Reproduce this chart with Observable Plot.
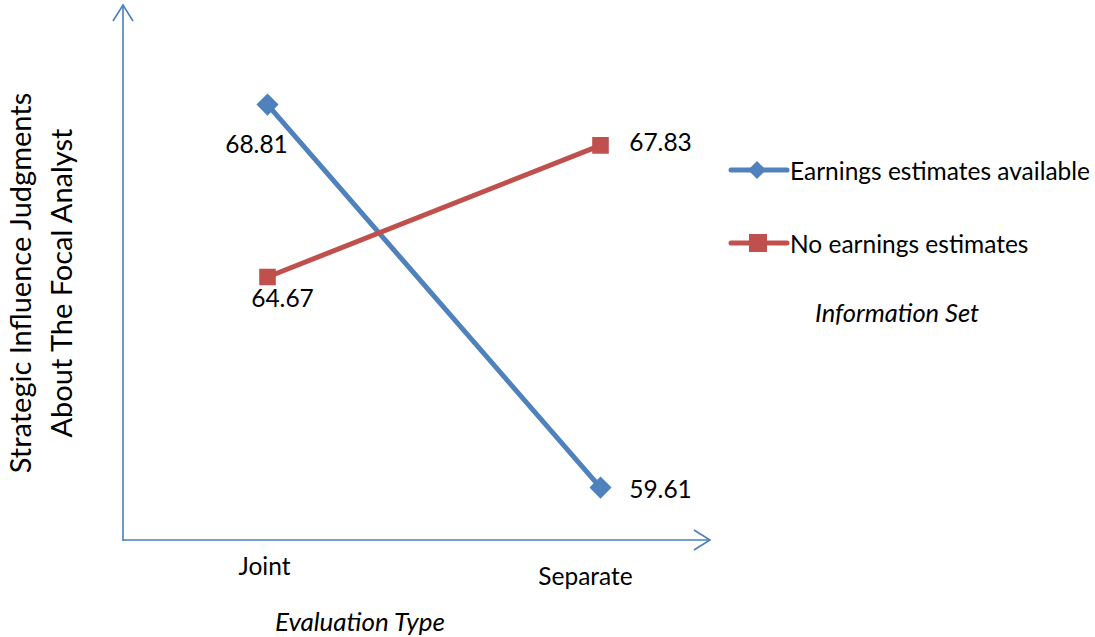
<!DOCTYPE html>
<html><head><meta charset="utf-8">
<script src="https://cdn.jsdelivr.net/npm/d3@7"></script>
<script src="https://cdn.jsdelivr.net/npm/@observablehq/plot@0.6"></script>
<style>
body{margin:0;background:#fff;font-family:Lato,"Open Sans",sans-serif;color:#000}
#wrap{position:relative;width:1095px;height:637px;overflow:hidden}
#legend{position:absolute;left:728px;top:150px;font-size:24.5px}
.item{display:flex;align-items:center;height:40px;position:absolute;left:0;white-space:nowrap}
#legtitle{position:absolute;left:87px;top:147px;font-style:italic;font-size:25.5px;white-space:nowrap}
</style>
</head><body>
<div id="wrap"><div id="chart"></div>
<div id="legend"></div></div>
<script>
const categories = ["Joint", "Separate"];
const seriesNames = ["Earnings estimates available", "No earnings estimates"];
const earningsAvailable = [68.81, 59.61];
const noEarnings = [64.67, 67.83];
const xAxisTitle = "Evaluation Type";
const yAxisTitle = ["Strategic Influence Judgments", "About The Focal Analyst"];
const legendTitle = "Information Set";

const colors = ["#4F81BD", "#C0504D"];
const symbols = ["diamond2", "square"];
const rows = [];
[earningsAvailable, noEarnings].forEach((vals, s) =>
  vals.forEach((v, i) => rows.push({series: seriesNames[s], cat: categories[i], value: v, s, i})));

// label offsets (style): [series][category]
const labelOffsets = [[[-11, 41], [60, 3]], [[15, 22], [60, -2]]];
const tickOffsets = [[-3, 34], [-15, 44]];

const W = 1095, H = 637, mL = 123, mR = 385, mT = 5, mB = 97;
const font = "Lato, 'Open Sans', sans-serif";

const marks = [];
seriesNames.forEach((name, s) => {
  const d = rows.filter(r => r.s === s);
  marks.push(Plot.line(d, {x: "cat", y: "value", stroke: colors[s], strokeWidth: 5}));
  marks.push(Plot.dot(d, {x: "cat", y: "value", fill: colors[s], stroke: colors[s], symbol: symbols[s], r: s === 0 ? 9 : 8.5}));
  d.forEach(r => {
    const [dx, dy] = labelOffsets[s][r.i];
    marks.push(Plot.text([r], {x: "cat", y: "value", text: d => d.value.toFixed(2), dx, dy,
      fontSize: 24.5, fill: "#000", textAnchor: "middle"}));
  });
});
categories.forEach((c, i) => {
  marks.push(Plot.text([c], {x: d => d, frameAnchor: "bottom", text: d => d, dx: tickOffsets[i][0], dy: tickOffsets[i][1],
    fontSize: 24.5, fill: "#000"}));
});

const plot = Plot.plot({
  width: W, height: H, marginLeft: mL, marginRight: mR, marginTop: mT, marginBottom: mB,
  style: {fontFamily: font, background: "#fff", overflow: "visible"},
  x: {type: "point", domain: categories, range: [267, 600], padding: 0, axis: null},
  y: {domain: [58.34, 71.19], range: [H - mB, mT], axis: null},
  marks
});

const svg = d3.select(plot);
const axisColor = "#4A7EBB";
const g = svg.insert("g", ":first-child").attr("fill", "none").attr("stroke", axisColor).attr("stroke-width", 1.6);
const x0 = mL, yB = H - mB, xR = W - mR;
g.append("line").attr("x1", x0).attr("y1", yB + 1).attr("x2", x0).attr("y2", mT);
g.append("polyline").attr("points", `${x0 - 10},${mT + 16} ${x0},${mT} ${x0 + 10},${mT + 16}`);
g.append("line").attr("x1", x0).attr("y1", yB).attr("x2", xR).attr("y2", yB);
g.append("polyline").attr("points", `${xR - 16},${yB - 10} ${xR},${yB} ${xR - 16},${yB + 10}`);

svg.append("text").attr("x", 360).attr("y", 631).attr("text-anchor", "middle")
  .attr("font-style", "italic").attr("font-size", 26).attr("font-family", font).text(xAxisTitle);
yAxisTitle.forEach((t, k) => {
  svg.append("text").attr("transform", `translate(${31 + k * 41},283) rotate(-90)`)
    .attr("text-anchor", "middle").attr("font-size", 29).attr("font-family", font).text(t);
});
document.getElementById("chart").appendChild(plot);

const leg = document.getElementById("legend");
seriesNames.forEach((name, s) => {
  const it = document.createElement("div");
  it.className = "item";
  it.style.top = (s * 73) + "px";
  const marker = s === 0
    ? `<path d="M29,11 L38,20 L29,29 L20,20Z" fill="${colors[s]}"/>`
    : `<rect x="21" y="11" width="18" height="18" fill="${colors[s]}"/>`;
  it.innerHTML = `<svg width="62" height="40"><line x1="3" y1="20" x2="59" y2="20" stroke="${colors[s]}" stroke-width="5" stroke-linecap="round"/>${marker}</svg><span>${name}</span>`;
  leg.appendChild(it);
});
const lt = document.createElement("div");
lt.id = "legtitle"; lt.textContent = legendTitle;
leg.appendChild(lt);
</script>
</body></html>
